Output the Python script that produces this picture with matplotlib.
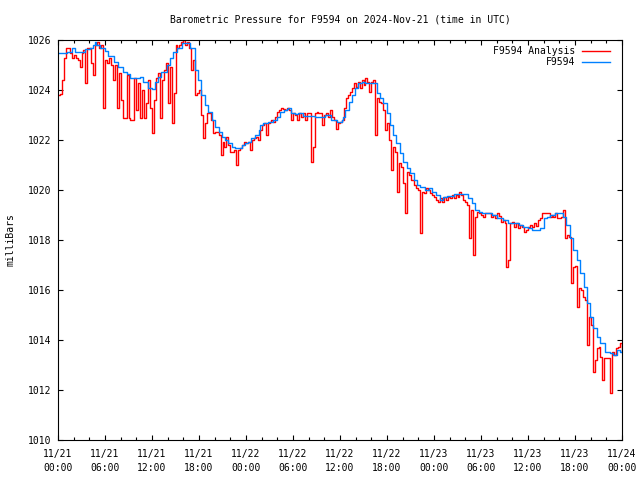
import matplotlib
matplotlib.use('Agg')
import matplotlib.pyplot as plt
import numpy as np
from matplotlib.ticker import MultipleLocator

plt.rcParams['font.family'] = ['DejaVu Sans Mono']
plt.rcParams['font.size'] = 7

# ---- data ----
title = "Barometric Pressure for F9594 on 2024-Nov-21 (time in UTC)"
ylabel = "milliBars"
series_names = ["F9594 Analysis", "F9594"]
xtick_hours = [0, 6, 12, 18, 24, 30, 36, 42, 48, 54, 60, 66, 72]
xtick_labels = ["11/21\n00:00", "11/21\n06:00", "11/21\n12:00", "11/21\n18:00",
                "11/22\n00:00", "11/22\n06:00", "11/22\n12:00", "11/22\n18:00",
                "11/23\n00:00", "11/23\n06:00", "11/23\n12:00", "11/23\n18:00",
                "11/24\n00:00"]
yticks = [1010, 1012, 1014, 1016, 1018, 1020, 1022, 1024, 1026]

# red series: 15-minute samples starting 11/21 00:00
red_step_hours = 0.25
red_v = [
    1023.8, 1023.85, 1024.4, 1025.3, 1025.7, 1025.7, 1025.5, 1025.3, 1025.4, 1025.3, 1025.2, 1024.9,
    1025.5, 1025.6, 1024.3, 1025.7, 1025.7, 1025.1, 1024.6, 1025.8, 1025.9, 1025.7, 1025.8, 1023.3,
    1025.2, 1025.1, 1025.3, 1025.0, 1024.4, 1025.0, 1023.3, 1024.7, 1023.6, 1022.9, 1022.9, 1024.6,
    1022.9, 1022.8, 1022.8, 1024.5, 1023.2, 1024.3, 1022.9, 1024.0, 1022.9, 1023.5, 1024.4, 1023.3,
    1022.3, 1023.6, 1024.5, 1024.7, 1022.9, 1024.4, 1024.8, 1025.1, 1023.5, 1024.9, 1022.7, 1023.9,
    1025.8, 1025.7, 1025.8, 1025.9, 1026.0, 1025.8, 1025.9, 1025.7, 1024.8, 1025.2, 1023.8, 1023.9,
    1024.0, 1023.0, 1022.1, 1022.7, 1023.07, 1023.07, 1022.8, 1022.27, 1022.33, 1022.33, 1022.2, 1021.4,
    1021.93, 1021.73, 1022.13, 1021.8, 1021.53, 1021.53, 1021.6, 1021.0, 1021.6, 1021.67, 1021.8, 1021.93,
    1021.87, 1021.93, 1021.6, 1022.0, 1022.07, 1022.13, 1022.0, 1022.4, 1022.6, 1022.67, 1022.2, 1022.7,
    1022.73, 1022.8, 1022.73, 1022.93, 1023.13, 1023.2, 1023.27, 1023.23, 1023.2, 1023.3, 1023.2, 1022.8,
    1023.07, 1023.0, 1022.8, 1023.1, 1022.93, 1023.07, 1022.8, 1023.07, 1023.1, 1021.13, 1021.73, 1023.07,
    1023.13, 1023.1, 1023.07, 1022.6, 1023.0, 1023.07, 1022.93, 1023.2, 1022.93, 1022.8, 1022.43, 1022.7,
    1022.73, 1022.8, 1023.27, 1023.67, 1023.8, 1023.93, 1024.07, 1024.27, 1024.13, 1024.33, 1024.07, 1024.4,
    1024.2, 1024.47, 1024.33, 1023.93, 1024.33, 1024.4, 1022.2, 1023.67, 1023.53, 1023.47, 1023.2, 1022.4,
    1022.67, 1022.0, 1020.8, 1021.73, 1021.53, 1019.93, 1021.07, 1020.93, 1020.27, 1019.07, 1020.73, 1020.6,
    1020.4, 1020.4, 1020.2, 1020.07, 1020.0, 1018.27, 1019.93, 1019.87, 1020.07, 1020.0, 1019.87, 1019.8,
    1019.73, 1019.6, 1019.53, 1019.67, 1019.53, 1019.73, 1019.6, 1019.73, 1019.67, 1019.8, 1019.67, 1019.8,
    1019.73, 1019.93, 1019.8, 1019.6, 1019.53, 1019.4, 1018.1, 1019.2, 1017.4, 1018.93, 1019.13, 1019.07,
    1019.0, 1018.93, 1019.07, 1019.07, 1019.07, 1018.93, 1019.0, 1018.87, 1019.07, 1018.96, 1018.73, 1018.8,
    1018.67, 1016.93, 1017.2, 1018.67, 1018.73, 1018.53, 1018.67, 1018.47, 1018.6, 1018.53, 1018.33, 1018.4,
    1018.53, 1018.6, 1018.53, 1018.67, 1018.56, 1018.8, 1018.87, 1019.07, 1019.07, 1019.07, 1019.07, 1018.93,
    1019.0, 1018.93, 1019.1, 1018.87, 1018.9, 1018.93, 1019.2, 1018.07, 1018.2, 1018.13, 1016.3, 1016.93,
    1016.95, 1015.33, 1016.07, 1016.0, 1015.73, 1015.6, 1013.8, 1014.93, 1014.6, 1012.73, 1013.2, 1013.67,
    1013.73, 1013.33, 1012.4, 1013.27, 1013.27, 1013.27, 1011.87, 1013.53, 1013.4, 1013.67, 1013.73, 1013.87,
    1013.53,
]

# blue series: hours since 11/21 00:00 and pressure
blue_t = [
    0, 1.1, 1.8, 2.2, 2.8, 3.4, 4.1, 4.5, 4.7, 4.9,
    5.4, 6.0, 6.4, 7.1, 7.7, 8.3, 8.8, 9.2, 9.8, 10.5,
    10.9, 11.5, 12.0, 12.4, 12.8, 13.2, 13.9, 14.3, 14.7, 15.2,
    15.8, 16.4, 16.9, 17.5, 17.9, 18.3, 18.8, 19.2, 19.6, 20.0,
    20.5, 20.9, 21.3, 21.7, 22.2, 22.6, 23.0, 23.5, 23.9, 24.3,
    24.7, 25.1, 25.6, 25.8, 26.2, 26.8, 27.5, 27.9, 28.3, 28.8,
    29.2, 29.4, 29.8, 30.3, 30.7, 31.3, 32.2, 32.8, 33.4, 34.1,
    34.5, 34.9, 35.6, 36.2, 36.4, 36.6, 37.1, 37.5, 37.9, 38.3,
    38.8, 39.2, 39.6, 40.3, 40.7, 41.1, 41.5, 42.0, 42.4, 42.8,
    43.2, 43.7, 44.1, 44.5, 44.9, 45.4, 45.8, 46.2, 46.9, 47.3,
    47.7, 48.3, 48.8, 49.2, 49.6, 50.5, 51.3, 52.0, 52.4, 52.8,
    53.2, 53.7, 54.1, 54.7, 55.4, 56.0, 56.8, 57.5, 58.1, 58.8,
    59.4, 60.0, 60.5, 61.1, 61.5, 62.0, 62.4, 62.8, 63.4, 64.1,
    64.5, 64.9, 65.4, 65.8, 66.2, 66.6, 67.1, 67.5, 67.9, 68.3,
    68.8, 69.2, 69.8, 70.5, 70.9, 71.3, 71.7, 72.0,
]
blue_v = [
    1025.47, 1025.53, 1025.69, 1025.53, 1025.51, 1025.64, 1025.69, 1025.80, 1025.91, 1025.80,
    1025.69, 1025.56, 1025.37, 1025.13, 1024.93, 1024.73, 1024.63, 1024.49, 1024.47, 1024.53,
    1024.33, 1024.09, 1024.04, 1024.33, 1024.53, 1024.73, 1025.0, 1025.27, 1025.53, 1025.67,
    1025.87, 1025.87, 1025.67, 1024.8, 1024.4, 1023.8, 1023.4, 1023.13, 1022.8, 1022.53,
    1022.33, 1022.13, 1022.0, 1021.87, 1021.73, 1021.67, 1021.67, 1021.8, 1021.87, 1021.93,
    1022.07, 1022.2, 1022.4, 1022.6, 1022.67, 1022.73, 1022.8, 1022.93, 1023.13, 1023.2,
    1023.23, 1023.27, 1023.09, 1023.04, 1023.07, 1022.96, 1022.96, 1022.93, 1022.93, 1023.0,
    1023.0, 1022.8, 1022.73, 1022.8, 1022.93, 1023.2, 1023.53, 1023.8, 1024.07, 1024.27,
    1024.33, 1024.27, 1024.29, 1024.29, 1023.87, 1023.67, 1023.47, 1023.07, 1022.6, 1022.2,
    1021.87, 1021.47, 1021.13, 1020.87, 1020.67, 1020.4, 1020.2, 1020.11, 1020.0, 1020.07,
    1019.93, 1019.8, 1019.6, 1019.73, 1019.76, 1019.84, 1019.84, 1019.84, 1019.67, 1019.47,
    1019.2, 1019.13, 1019.07, 1019.07, 1019.0, 1018.87, 1018.8, 1018.69, 1018.67, 1018.6,
    1018.53, 1018.47, 1018.4, 1018.4, 1018.47, 1018.87, 1018.93, 1019.0, 1019.09, 1019.07,
    1018.93, 1018.6, 1018.07, 1017.6, 1017.2, 1016.67, 1016.13, 1015.47, 1014.93, 1014.47,
    1014.13, 1013.87, 1013.53, 1013.47, 1013.4, 1013.6, 1013.53, 1013.55,
]

# ---- figure ----
W, H = 640, 480
fig = plt.figure(figsize=(6.4, 4.8), dpi=100)
ax = fig.add_axes([58 / W, 40 / H, 564 / W, 400 / H])

red_t = np.arange(len(red_v)) * red_step_hours
ax.plot(red_t, red_v, drawstyle='steps-post', color='#ff0000', lw=1.0,
        label=series_names[0])
ax.plot(blue_t, blue_v, drawstyle='steps-post', color='#0080ff', lw=1.0,
        label=series_names[1])

ax.set_xlim(0, 72)
ax.set_ylim(1010, 1026)
ax.set_xticks(xtick_hours)
ax.set_xticklabels(xtick_labels)
for lab in ax.get_xticklabels():
    lab.set_linespacing(1.45)
ax.xaxis.set_minor_locator(MultipleLocator(2))
ax.set_yticks(yticks)
ax.set_yticklabels([str(v) for v in yticks])

for s in ax.spines.values():
    s.set_linewidth(0.8)
    s.set_color('black')

ax.tick_params(which='both', direction='in', top=True, right=True, width=0.8,
               colors='black')
ax.tick_params(which='major', length=3.5)
ax.tick_params(which='minor', length=2)
ax.tick_params(axis='x', which='major', pad=6.5)
ax.tick_params(axis='y', which='major', pad=5)

fig.text(340 / W, 1 - 19 / H, title, ha='center', va='center')
fig.text(11 / W, 1 - 240 / H, ylabel, rotation=90, ha='center', va='center')

leg = ax.legend(loc='upper right', bbox_to_anchor=(610 / W, 1 - 46 / H),
                bbox_transform=fig.transFigure, frameon=False, markerfirst=False,
                borderpad=0, borderaxespad=0, handlelength=2.9, handletextpad=0.7,
                labelspacing=0.1)

fig.savefig('out.png', dpi=100)
